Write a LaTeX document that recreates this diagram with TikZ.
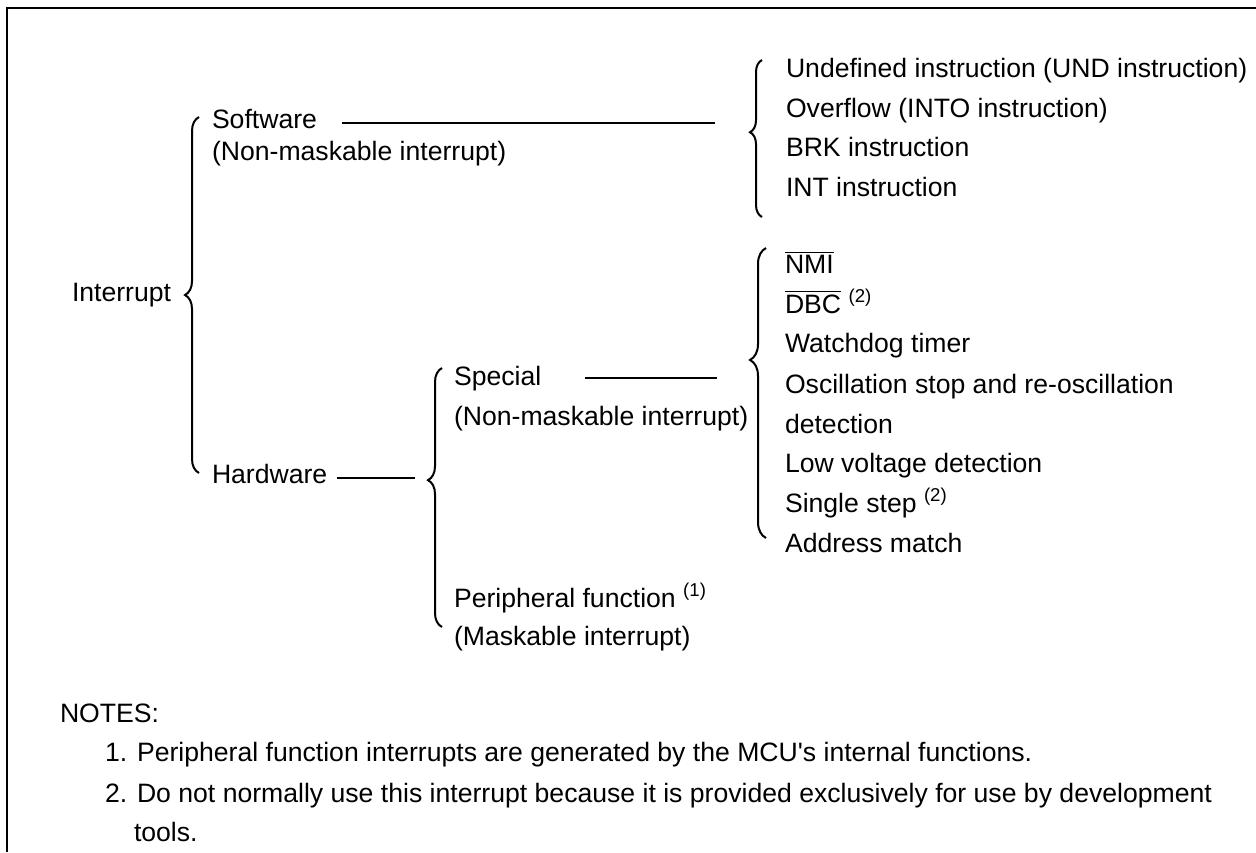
\documentclass[tikz,border=0pt]{standalone}
\usepackage{fontspec}
\setmainfont{Liberation Sans}
\usetikzlibrary{decorations.pathreplacing}
\begin{document}
\begin{tikzpicture}[x=0.5pt,y=-0.5pt,
  txt/.style={anchor=base west,inner sep=0pt,outer sep=0pt,font=\fontsize{13.3}{15}\selectfont},
  conn/.style={line width=1pt},
  brc/.style={line width=1pt,decorate,decoration={brace,amplitude=#1}},
  frame/.style={line width=1.3pt}]
\useasboundingbox (0,0) rectangle (1256,852);
\draw[frame] (1256,8) -- (7,8) -- (7,852);
% level 0
\node[txt] (int) at (72,301) {Interrupt};
% level 1
\node[txt] (sw) at (212,128) {Software};
\node[txt] (sw2) at (212,160) {(Non-maskable interrupt)};
\node[txt] (hw) at (212,483) {Hardware};
% level 2 (hardware)
\node[txt] (sp) at (454,385) {Special};
\node[txt] (sp2) at (454,425) {(Non-maskable interrupt)};
\node[txt] (pf) at (454,607) {Peripheral function \textsuperscript{(1)}};
\node[txt] (pf2) at (454,645) {(Maskable interrupt)};
% software items
\node[txt] (s1) at (786,77) {Undefined instruction (UND instruction)};
\node[txt] (s2) at (786,117) {Overflow (INTO instruction)};
\node[txt] (s3) at (786,156) {BRK instruction};
\node[txt] (s4) at (786,196) {INT instruction};
% special items
\node[txt] (h1) at (785,273) {$\overline{\mbox{NMI}}$};
\node[txt] (h2) at (785,313) {$\overline{\mbox{DBC}}$ \textsuperscript{(2)}};
\node[txt] (h3) at (785,352) {Watchdog timer};
\node[txt] (h4) at (785,393) {Oscillation stop and re-oscillation};
\node[txt] (h5) at (785,433) {detection};
\node[txt] (h6) at (785,472) {Low voltage detection};
\node[txt] (h7) at (785,512) {Single step \textsuperscript{(2)}};
\node[txt] (h8) at (785,552) {Address match};
% notes
\node[txt] (notes) at (60,722) {NOTES:};
\node[txt] (n1) at (105,761) {1. Peripheral function interrupts are generated by the MCU\textquotesingle s internal functions.};
\node[txt] (n2) at (105,802) {2. Do not normally use this interrupt because it is provided exclusively for use by development};
\node[txt] (n3) at (134,841) {tools.};
% braces
\coordinate (bIb) at (199,473); \coordinate (bIt) at (199,117);
\draw[brc=7pt,decoration={aspect=0.5}] (bIb) -- (bIt);
\coordinate (bSb) at (762,217); \coordinate (bSt) at (762,60);
\draw[brc=6pt,decoration={aspect=0.54}] (bSb) -- (bSt);
\coordinate (bHb) at (442,627); \coordinate (bHt) at (442,368);
\draw[brc=7pt,decoration={aspect=0.567}] (bHb) -- (bHt);
\coordinate (bPb) at (766,538); \coordinate (bPt) at (766,248);
\draw[brc=8pt,decoration={aspect=0.614}] (bPb) -- (bPt);
% connectors
\coordinate (swL) at (342,123); \coordinate (swR) at (715,123);
\draw[conn] (swL) -- (swR);
\coordinate (hwL) at (337,478); \coordinate (hwR) at (415,478);
\draw[conn] (hwL) -- (hwR);
\coordinate (spL) at (585,378); \coordinate (spR) at (717,378);
\draw[conn] (spL) -- (spR);
\end{tikzpicture}
\end{document}
